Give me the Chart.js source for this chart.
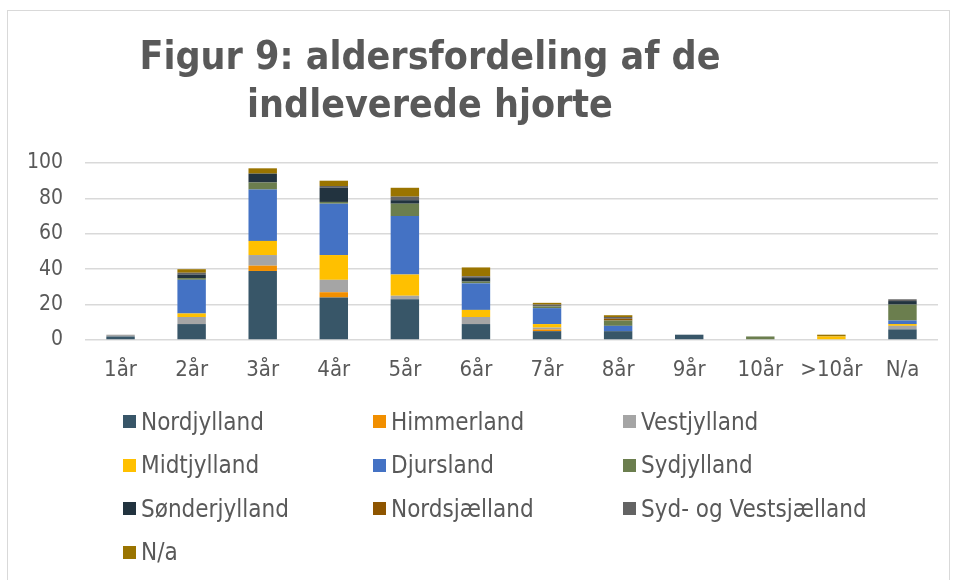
<!DOCTYPE html>
<html><head><meta charset="utf-8">
<script src="https://cdn.jsdelivr.net/npm/chart.js@4"></script>
<style>
html,body{margin:0;padding:0;background:#fff;}
#wrap{position:relative;width:954px;height:580px;overflow:hidden;background:#fff;}
#frame{position:absolute;left:7px;top:10px;width:943px;height:600px;border:1px solid #d9d9d9;box-sizing:border-box;}
#c{position:absolute;left:0;top:0;}
#title{position:absolute;left:0;top:32px;width:860px;text-align:center;font:bold 39px 'DejaVu Sans Condensed','DejaVu Sans',sans-serif;line-height:48px;color:#595959;}
.lt{position:absolute;font:24px 'DejaVu Sans Condensed','DejaVu Sans',sans-serif;color:#595959;white-space:nowrap;line-height:24px;}
.lb{position:absolute;width:13px;height:13px;}
</style></head>
<body>
<div id="wrap">
<div id="frame"></div>
<canvas id="c" width="954" height="580"></canvas>
<div id="title"></div>
<div id="legend"></div>
</div>
<script>
const titleLines = ["Figur 9: aldersfordeling af de", "indleverede hjorte"];
const categories = ["1år","2år","3år","4år","5år","6år","7år","8år","9år","10år",">10år","N/a"];
const seriesNames = ["Nordjylland","Himmerland","Vestjylland","Midtjylland","Djursland","Sydjylland","Sønderjylland","Nordsjælland","Syd- og Vestsjælland","N/a"];
const seriesColors = ["#385668","#F18F00","#A5A5A5","#FFC000","#4472C4","#6B7E4E","#22333F","#8E5500","#636363","#9A7400"];
const nordjylland   = [2, 9,39,24,23, 9,5,5,3,0,0,6];
const himmerland    = [0, 0, 3, 3, 0, 0,1,0,0,0,0,0];
const vestjylland   = [1, 4, 6, 7, 2, 4,1,0,0,0,0,2];
const midtjylland   = [0, 2, 8,14,12, 4,2,0,0,0,2,1];
const djursland     = [0,19,29,29,33,15,9,3,0,0,0,2];
const sydjylland    = [0, 1, 4, 1, 7, 1,1,3,0,2,0,9];
const soenderjylland= [0, 2, 5, 8, 2, 2,0,0,0,0,0,2];
const nordsjaelland = [0, 0, 0, 0, 0, 0,0,1,0,0,0,0];
const sydVestSj     = [0, 1, 0, 1, 2, 1,1,1,0,0,0,1];
const naSeries      = [0, 2, 3, 3, 5, 5,1,1,0,0,1,0];
const yTicks = [0,20,40,60,80,100];

const seriesData = [nordjylland,himmerland,vestjylland,midtjylland,djursland,sydjylland,soenderjylland,nordsjaelland,sydVestSj,naSeries];
const FAM = "'DejaVu Sans Condensed','DejaVu Sans',sans-serif";

document.getElementById('title').innerHTML = titleLines.join('<br>');

const datasets = seriesNames.map((n,i)=>({label:n,data:seriesData[i],backgroundColor:seriesColors[i],borderWidth:0,barPercentage:0.4,categoryPercentage:1}));

new Chart(document.getElementById('c'),{
  type:'bar',
  data:{labels:categories,datasets},
  options:{
    responsive:false,animation:false,
    layout:{padding:{top:163,right:16,bottom:190,left:0}},
    plugins:{legend:{display:false},title:{display:false},tooltip:{enabled:false}},
    scales:{
      x:{stacked:true,grid:{display:false,drawTicks:false},border:{display:false},
         ticks:{padding:17,color:'#595959',font:{size:22,family:FAM}},
         afterFit(s){s.height=50;}},
      y:{stacked:true,min:0,max:100,
         afterBuildTicks(s){s.ticks=yTicks.map(v=>({value:v}));},
         ticks:{padding:22,color:'#595959',font:{size:21,family:FAM}},
         grid:{color:'#d9d9d9',lineWidth:1.5,drawTicks:false},border:{display:false},
         afterFit(s){s.width=85;}}
    }
  }
});

const leg = document.getElementById('legend');
seriesNames.forEach((n,i)=>{
  const col=i%3,row=Math.floor(i/3);
  const cy=421.5+row*43.5;
  const b=document.createElement('div');
  b.className='lb';
  b.style.left=(123+col*250)+'px';
  b.style.top=(cy-6.5)+'px';
  b.style.background=seriesColors[i];
  leg.appendChild(b);
  const t=document.createElement('div');
  t.className='lt';
  t.style.left=(141+col*250)+'px';
  t.style.top=(cy+8.5-20.3)+'px';
  t.textContent=n;
  leg.appendChild(t);
});
</script>
</body></html>
